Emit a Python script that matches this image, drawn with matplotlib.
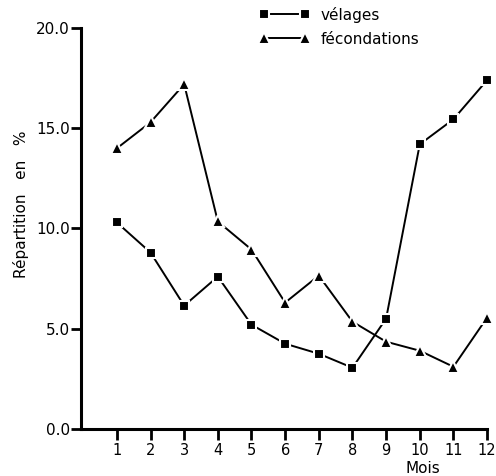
import matplotlib
matplotlib.use('Agg')
import matplotlib.pyplot as plt

# ----- données -----
mois = [1, 2, 3, 4, 5, 6, 7, 8, 9, 10, 11, 12]
velages = [10.3, 8.8, 6.15, 7.6, 5.2, 4.25, 3.75, 3.05, 5.5, 14.2, 15.45, 17.4]
fecondations = [14.0, 15.3, 17.2, 10.35, 8.95, 6.3, 7.65, 5.35, 4.35, 3.9, 3.1, 5.55]
yticks = [0, 5, 10, 15, 20]
ytick_labels = ['0.0', '5.0', '10.0', '15.0', '20.0']

plt.rcParams['font.family'] = ['DejaVu Sans']

fig = plt.figure(figsize=(4.96, 4.76), dpi=100)
ax = fig.add_axes([0.163, 0.099, 0.819, 0.842])

# marqueurs avec bord blanc pour laisser un petit espace avec la ligne
ax.plot(mois, velages, color='black', lw=1.4, marker='s', ms=7,
        mfc='black', mec='white', mew=1.5, label='vélages', clip_on=False)
ax.plot(mois, fecondations, color='black', lw=1.4, marker='^', ms=8,
        mfc='black', mec='white', mew=1.5, label='fécondations', clip_on=False)

ax.set_xlim(-0.07, 12)
ax.set_ylim(0, 20)
ax.set_xticks(mois)
ax.set_xticklabels([str(m) for m in mois], fontsize=10.5)
ax.set_yticks(yticks)
ax.set_yticklabels(ytick_labels, fontsize=11)

for side in ['top', 'right']:
    ax.spines[side].set_visible(False)
for side in ['left', 'bottom']:
    ax.spines[side].set_linewidth(2.2)
ax.tick_params(axis='x', direction='out', length=8, width=2, pad=2)
ax.tick_params(axis='y', direction='out', length=7, width=2, pad=1)

fig.text(0.042, 0.57, 'Répartition   en   %', rotation=90, ha='center', va='center',
         fontsize=11)
fig.text(0.852, 0.0, 'Mois', ha='center', va='bottom', fontsize=11)

ax.legend(loc='upper left', bbox_to_anchor=(0.51, 0.999), bbox_transform=fig.transFigure,
          frameon=False, numpoints=2, handlelength=3.3, handletextpad=0.7,
          fontsize=11, labelspacing=0.6, borderaxespad=0)

fig.savefig('out.png', dpi=100)
